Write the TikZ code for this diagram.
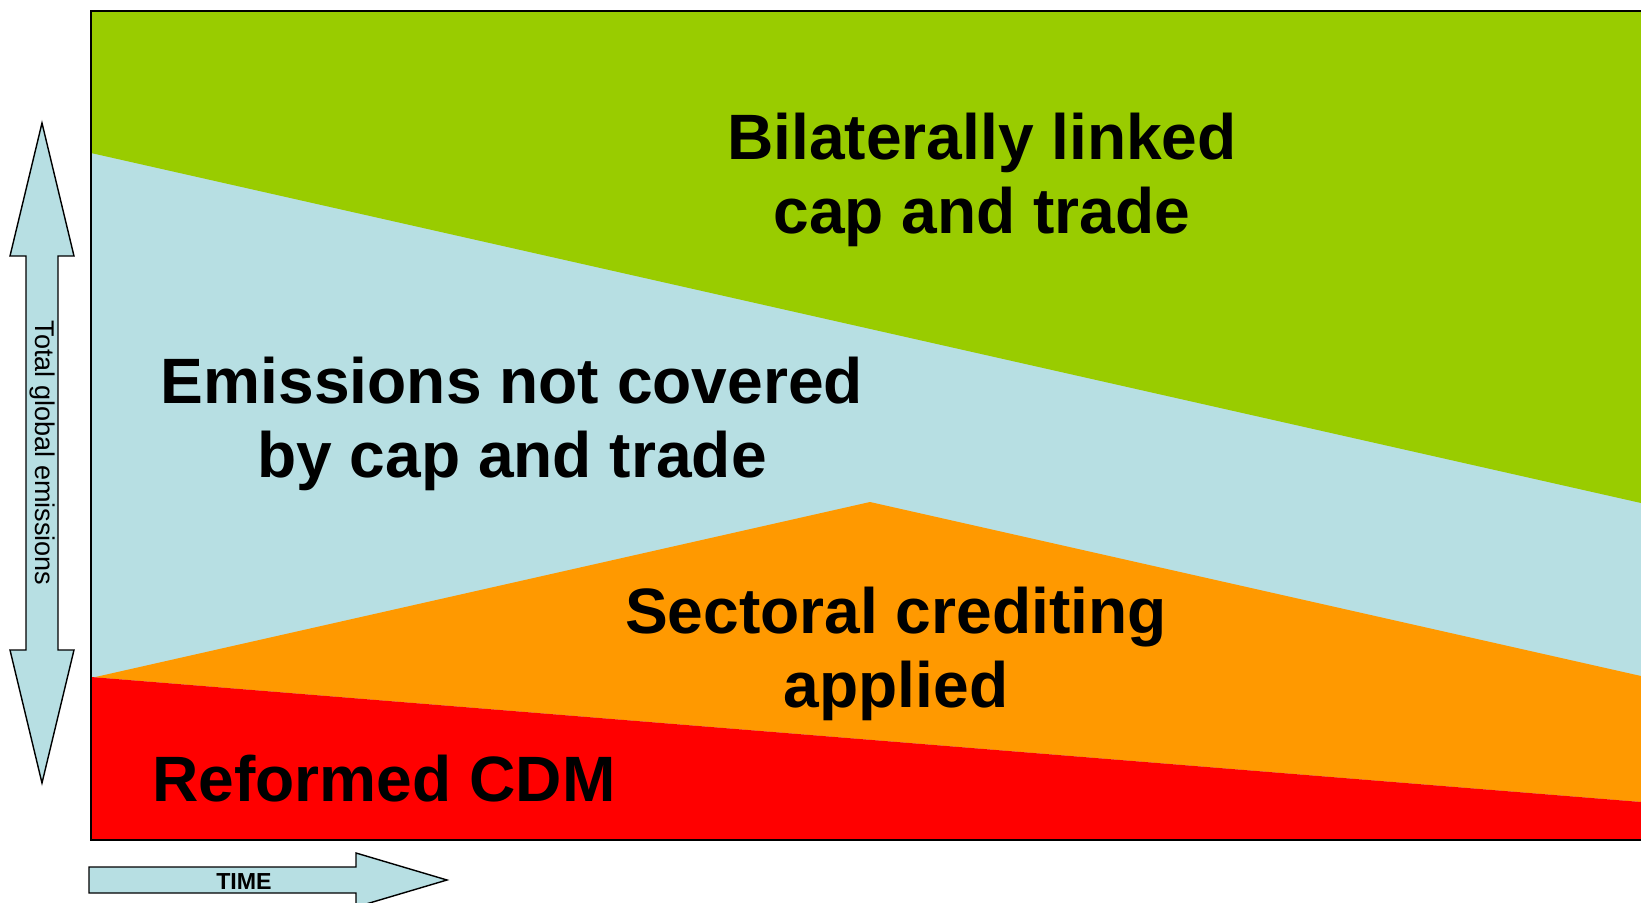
\documentclass[tikz,border=0pt]{standalone}
\usepackage{fontspec}
\setmainfont{Liberation Sans}
\usepackage{tikz}

\definecolor{capgreen}{HTML}{99CC00}
\definecolor{openblue}{HTML}{B7DFE3}
\definecolor{sectorange}{HTML}{FF9900}
\definecolor{cdmred}{HTML}{FF0000}

\begin{document}
\begin{tikzpicture}[x=0.02cm, y=-0.02cm,
	bigtext/.style={font=\bfseries\fontsize{36.5}{42.5}\selectfont, align=center, inner sep=0pt},
	axistext/.style={font=\fontsize{15.4}{18}\selectfont, inner sep=0pt},
	axisarrow/.style={draw=black, line width=0.8pt, fill=openblue}]
	
	\useasboundingbox (0,0) rectangle (1641,903);
	
	% bands of the chart
	\fill[openblue] (91,11) rectangle (1641,840);
	\fill[capgreen] (91,11) -- (1641,11) -- (1641,503) -- (91,153) -- cycle;
	\fill[sectorange] (91,678) -- (870,502) -- (1641,676) -- (1641,802) -- (91,677) -- cycle;
	\fill[cdmred] (91,677) -- (1641,802) -- (1641,840) -- (91,840) -- cycle;
	\draw[line width=1.3pt] (1641,11) -- (91,11) -- (91,840) -- (1641,840);
	
	% axes
	\draw[axisarrow] (42,123) -- (74,256) -- (58,256) -- (58,650) -- (74,650) -- (42,783)
		-- (10,650) -- (26,650) -- (26,256) -- (10,256) -- cycle;
	\node[axistext, rotate=-90] (total) at (42,453) {Total global emissions};
	
	\draw[axisarrow] (89,867) -- (356,867) -- (356,853) -- (447,880) -- (356,907)
		-- (356,893) -- (89,893) -- cycle;
	\node[font=\bfseries\fontsize{13.2}{15}\selectfont, inner sep=0pt, anchor=base] (time) at (244,889) {TIME};
	
	% labels
	\node[bigtext] (linked) at (982,180) {Bilaterally linked\\cap and trade};
	\node[bigtext] (uncovered) at (512,424) {Emissions not covered\\by cap and trade};
	\node[bigtext] (sectoral) at (896,654) {Sectoral crediting\\applied};
	\node[bigtext, anchor=base] (cdm) at (384,801) {Reformed CDM};
	
\end{tikzpicture}
\end{document}
